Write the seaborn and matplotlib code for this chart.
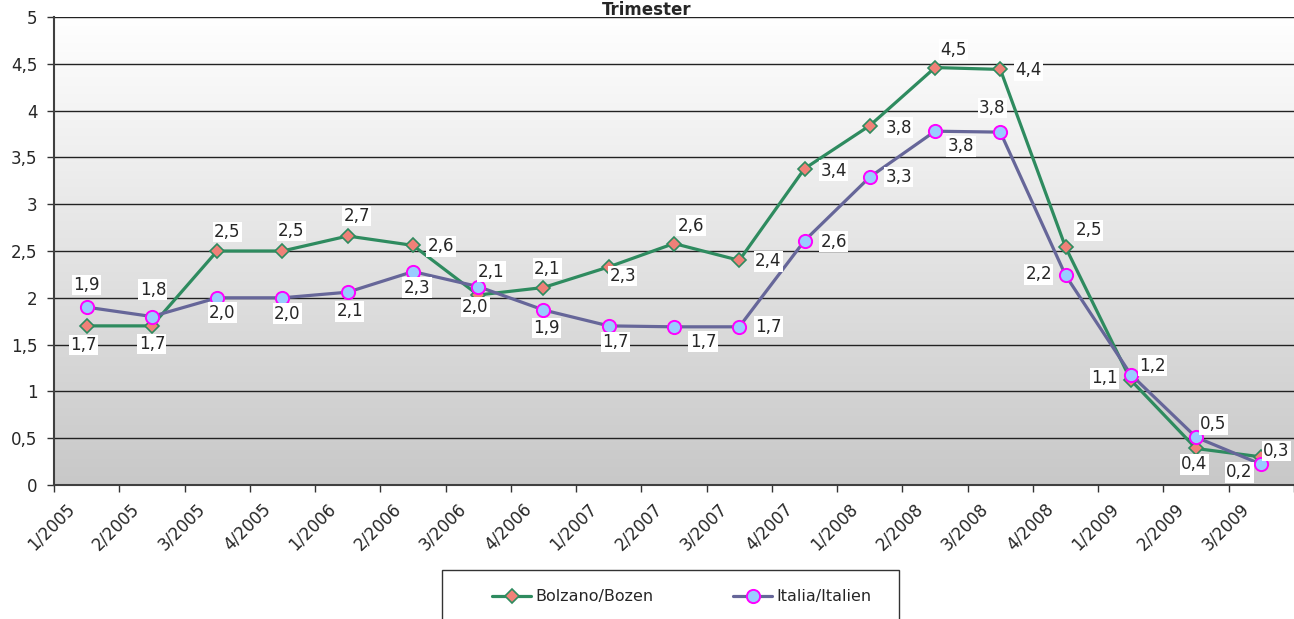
import numpy as np
import pandas as pd
import matplotlib
matplotlib.use("Agg")
import matplotlib.pyplot as plt
import seaborn as sns
from matplotlib.colors import LinearSegmentedColormap
from matplotlib.transforms import ScaledTranslation
from matplotlib.patches import Rectangle

quarters = ['1/2005', '2/2005', '3/2005', '4/2005', '1/2006', '2/2006', '3/2006',
            '4/2006', '1/2007', '2/2007', '3/2007', '4/2007', '1/2008', '2/2008',
            '3/2008', '4/2008', '1/2009', '2/2009', '3/2009']
bolzano = [1.70, 1.70, 2.50, 2.50, 2.66, 2.56, 2.03, 2.11, 2.33, 2.58, 2.40, 3.38,
           3.84, 4.46, 4.44, 2.54, 1.12, 0.39, 0.30]
italia = [1.90, 1.80, 2.00, 2.00, 2.06, 2.28, 2.12, 1.87, 1.70, 1.69, 1.69, 2.61,
          3.29, 3.78, 3.77, 2.24, 1.18, 0.51, 0.22]

# label offsets in pixels (dx, dy up)
off_bz = [(-3, -19), (0, -18), (10, 19), (9, 20), (9, 20), (28, -1), (-3, -12),
          (4, 19), (14, -9), (17, 18), (29, -1), (29, -2), (29, -2), (18, 18),
          (28, -1), (23, 17), (-26, 2), (-2, -16), (15, 6)]
off_it = [(0, 22), (1, 27), (5, -15), (5, -16), (2, -19), (4, -16), (13, 15),
          (3, -18), (7, -16), (29, -15), (29, 0), (29, -1), (29, 0), (26, -15),
          (-8, 24), (-27, 1), (22, 9), (17, 13), (-22, -8)]

sns.set_style('white')
plt.rcParams['font.family'] = ['DejaVu Sans']

fig = plt.figure(figsize=(12.94, 6.19), dpi=100)
ax = fig.add_axes([54 / 1294, 1 - 485 / 619, 1 - 54 / 1294, (485 - 17) / 619])

# gradient background
cmap = LinearSegmentedColormap.from_list('bg', ['#c8c8c8', '#ffffff'])
ax.imshow(np.linspace(0, 1, 256).reshape(-1, 1), cmap=cmap, extent=[0, 1, 0, 1],
          transform=ax.transAxes, aspect='auto', origin='lower', zorder=0)

x = np.arange(len(quarters))
df = pd.DataFrame({'x': x, 'Bolzano/Bozen': bolzano, 'Italia/Italien': italia})

sns.lineplot(data=df, x='x', y='Bolzano/Bozen', ax=ax, color='#2e8b5f', lw=2.3,
             marker='D', markersize=7.5, markerfacecolor='#f08078',
             markeredgecolor='#2e8b5f', markeredgewidth=1.2, zorder=3,
             label='Bolzano/Bozen')
sns.lineplot(data=df, x='x', y='Italia/Italien', ax=ax, color='#666699', lw=2.3,
             marker='o', markersize=9.5, markerfacecolor='#99ccff',
             markeredgecolor='#ff00ff', markeredgewidth=1.4, zorder=4,
             label='Italia/Italien')

def fmt(v):
    return f'{v:.1f}'.replace('.', ',')

for vals, offs in ((bolzano, off_bz), (italia, off_it)):
    for i, (v, o) in enumerate(zip(vals, offs)):
        ax.annotate(fmt(v), (i, v), xytext=o, textcoords='offset pixels',
                    ha='center', va='center', fontsize=12, zorder=5,
                    bbox=dict(boxstyle='square,pad=0.08', fc='white', ec='none'))

ax.set_xlim(-0.5, len(quarters) - 0.5)
ax.set_ylim(0, 5)
ax.set_yticks(np.arange(0, 5.01, 0.5))
ax.set_yticklabels(['0', '0,5', '1', '1,5', '2', '2,5', '3', '3,5', '4', '4,5', '5'])
ax.yaxis.grid(True, color='#222222', lw=1.0)
ax.set_axisbelow(False)
for gl in ax.get_ygridlines():
    gl.set_zorder(1)

ax.set_xticks(x)
ax.set_xticklabels(quarters, rotation=45, ha='right', va='center',
                   rotation_mode='anchor', fontsize=12)
ax.set_xticks(np.arange(-0.5, len(quarters)), minor=True)
ax.tick_params(axis='x', which='major', length=0, pad=0)
ax.tick_params(axis='x', which='minor', length=5, width=1, color='#333333',
               direction='out', bottom=True)
ax.tick_params(axis='y', length=5, width=1, color='#333333', direction='out',
               left=True, pad=7, labelsize=12)
shift = ScaledTranslation(-0.15, -0.21, fig.dpi_scale_trans)
for lab in ax.get_xticklabels():
    lab.set_transform(lab.get_transform() + shift)

for s in ['top', 'right']:
    ax.spines[s].set_visible(False)
for s in ['left', 'bottom']:
    ax.spines[s].set_color('#404040')
    ax.spines[s].set_linewidth(1.5)
    ax.spines[s].set_zorder(6)
ax.set_xlabel('')
ax.set_ylabel('')

fig.text(0.5, 1 - 10 / 619, 'Trimester', ha='center', va='center',
         fontsize=12, fontweight='bold', zorder=10)

# legend box
ax.get_legend().remove()
fig.patches.append(Rectangle((442 / 1294, -0.05), 457 / 1294, 0.05 + 49 / 619,
                             transform=fig.transFigure, fill=False,
                             ec='#333333', lw=1.0))
handles, labels = ax.get_legend_handles_labels()
fig.legend(handles, labels, loc='center left', ncol=2, frameon=False,
           bbox_to_anchor=(478 / 1294, 1 - 597 / 619), fontsize=11.5,
           handlelength=2.4, handletextpad=0.3, columnspacing=5.0)

fig.savefig('out.png', dpi=100)
